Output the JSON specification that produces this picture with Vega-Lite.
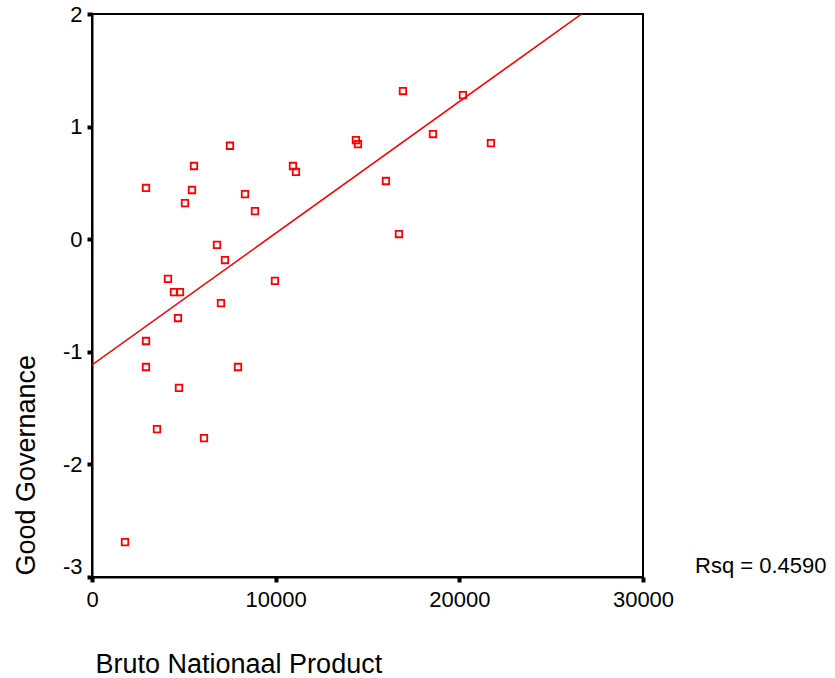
{
  "$schema": "https://vega.github.io/schema/vega-lite/v6.json",
  "width": 551,
  "height": 563,
  "autosize": {"type": "none"},
  "padding": {"left": 92, "top": 14, "right": 192, "bottom": 101},
  "background": "white",
  "config": {
    "font": "Liberation Sans",
    "view": {"stroke": "black", "strokeWidth": 2},
    "axis": {
      "grid": false,
      "domainColor": "black",
      "domainWidth": 2,
      "tickColor": "black",
      "tickWidth": 4,
      "tickSize": 5,
      "labelColor": "black",
      "labelFont": "Liberation Sans",
      "labelFontSize": 22,
      "labelFlush": false,
      "titleColor": "black",
      "titleFont": "Liberation Sans",
      "titleFontSize": 27,
      "titleFontWeight": "normal"
    }
  },
  "datasets": {
    "points": [
      {"bnp": 2940, "gg": 0.455},
      {"bnp": 5553, "gg": 0.65},
      {"bnp": 7512, "gg": 0.83},
      {"bnp": 5444, "gg": 0.437},
      {"bnp": 5063, "gg": 0.32},
      {"bnp": 8329, "gg": 0.40},
      {"bnp": 8873, "gg": 0.25},
      {"bnp": 6805, "gg": -0.05},
      {"bnp": 7240, "gg": -0.185},
      {"bnp": 4137, "gg": -0.353},
      {"bnp": 4464, "gg": -0.47},
      {"bnp": 4790, "gg": -0.47},
      {"bnp": 4682, "gg": -0.70},
      {"bnp": 7022, "gg": -0.567},
      {"bnp": 9962, "gg": -0.37},
      {"bnp": 2940, "gg": -0.904},
      {"bnp": 2940, "gg": -1.135},
      {"bnp": 7948, "gg": -1.135},
      {"bnp": 4736, "gg": -1.32},
      {"bnp": 3538, "gg": -1.686},
      {"bnp": 6097, "gg": -1.766},
      {"bnp": 1796, "gg": -2.69},
      {"bnp": 10942, "gg": 0.65},
      {"bnp": 11105, "gg": 0.597},
      {"bnp": 14371, "gg": 0.88},
      {"bnp": 14480, "gg": 0.845},
      {"bnp": 16004, "gg": 0.517},
      {"bnp": 16930, "gg": 1.316},
      {"bnp": 18563, "gg": 0.934},
      {"bnp": 20196, "gg": 1.28},
      {"bnp": 21720, "gg": 0.854},
      {"bnp": 16712, "gg": 0.046}
    ],
    "note": [
      {"label": "Rsq = 0.4590", "bnp": 30000, "gg": -3}
    ]
  },
  "layer": [
    {
      "data": {"name": "points"},
      "transform": [
        {"regression": "gg", "on": "bnp", "method": "linear", "extent": [0, 30000]}
      ],
      "mark": {"type": "line", "color": "#ff0000", "strokeWidth": 1.5, "clip": true},
      "encoding": {
        "x": {
          "field": "bnp",
          "type": "quantitative",
          "scale": {"domain": [0, 30000], "nice": false, "zero": false},
          "axis": {
            "values": [0, 10000, 20000, 30000],
            "labelExpr": "'' + datum.value",
            "labelPadding": 7,
            "title": "Bruto Nationaal Product",
            "titleAnchor": "start",
            "titleAlign": "left",
            "titleBaseline": "alphabetic",
            "titleX": 3,
            "titleY": 95
          }
        },
        "y": {
          "field": "gg",
          "type": "quantitative",
          "scale": {"domain": [-3, 2], "nice": false, "zero": false},
          "axis": {
            "values": [-3, -2, -1, 0, 1, 2],
            "labelExpr": "'' + datum.value",
            "labelPadding": 5,
            "labelOffset": {"condition": {"test": "datum.value == -3", "value": -11}, "value": 0},
            "title": "Good Governance",
            "titleAngle": 270,
            "titleAnchor": "start",
            "titleAlign": "left",
            "titleBaseline": "alphabetic",
            "titleX": -58,
            "titleY": 561
          }
        }
      }
    },
    {
      "data": {"name": "points"},
      "mark": {"type": "point", "shape": "square", "filled": false, "size": 42, "strokeWidth": 1.8, "color": "#ff0000", "opacity": 1},
      "encoding": {
        "x": {"field": "bnp", "type": "quantitative"},
        "y": {"field": "gg", "type": "quantitative"}
      }
    },
    {
      "data": {"name": "note"},
      "mark": {"type": "text", "align": "left", "baseline": "alphabetic", "dx": 52, "dy": -4, "fontSize": 22, "font": "Liberation Sans", "color": "black"},
      "encoding": {
        "x": {"field": "bnp", "type": "quantitative"},
        "y": {"field": "gg", "type": "quantitative"},
        "text": {"field": "label"}
      }
    }
  ]
}
